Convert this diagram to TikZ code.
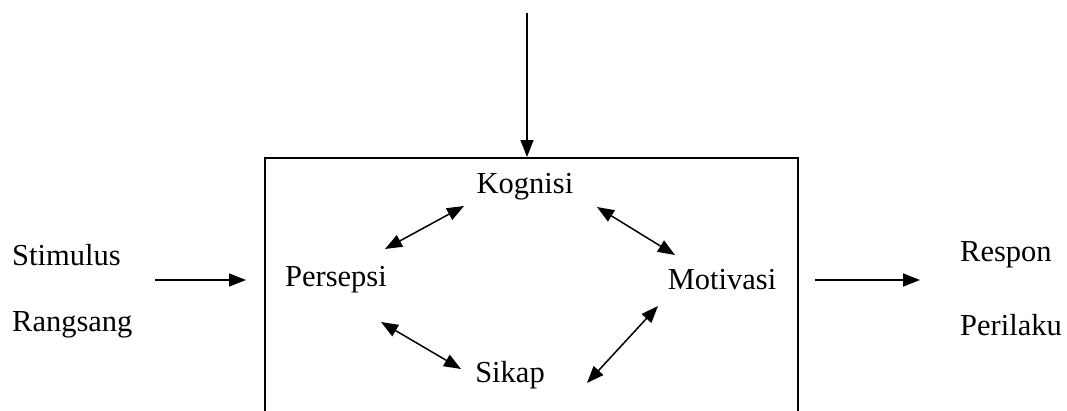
\documentclass[tikz,border=0pt]{standalone}
\usepackage{fontspec}
\setmainfont{Liberation Serif}
\usetikzlibrary{arrows.meta}
\begin{document}
\begin{tikzpicture}[x=1pt,y=-1pt,
  lbl/.style={inner sep=0pt, font=\fontsize{30.5}{36}\selectfont},
  conn/.style={line width=1.5pt, -{Triangle[length=17pt,width=13pt]}},
  dconn/.style={line width=1.5pt, {Triangle[length=17pt,width=13pt]}-{Triangle[length=17pt,width=13pt]}}]
\useasboundingbox (0,0) rectangle (1067,410);
\begin{scope}
\clip (0,0) rectangle (1067,410);
\node[draw, line width=1.6pt, minimum width=533pt, minimum height=280pt, anchor=north west, inner sep=0pt] (box) at (264,157) {};
\end{scope}
\coordinate (topin) at (527,13);
\node[lbl] (kog) at (525,187) {Kognisi};
\node[lbl] (per) at (336,280) {Persepsi};
\node[lbl] (mot) at (722,280) {Motivasi};
\node[lbl] (sik) at (510,375) {Sikap};
\node[lbl, anchor=west] (sti) at (12,255) {Stimulus};
\node[lbl, anchor=west] (ran) at (12,325) {Rangsang};
\node[lbl, anchor=west] (res) at (960,255) {Respon};
\node[lbl, anchor=west] (pri) at (960,325) {Perilaku};
\coordinate (lin) at (155,280);
\coordinate (lend) at (246,280);
\coordinate (rin) at (815,280);
\coordinate (rend) at (920,280);
\coordinate (a1) at (385,249); \coordinate (a2) at (464,206);
\coordinate (b1) at (597,207); \coordinate (b2) at (675,255);
\coordinate (c1) at (381,322); \coordinate (c2) at (461,369);
\coordinate (d1) at (587,383); \coordinate (d2) at (658,306);
\draw[conn] (topin) -- (box.north -| topin);
\draw[conn] (lin) -- (lend);
\draw[conn] (rin) -- (rend);
\draw[dconn] (a1) -- (a2);
\draw[dconn] (b1) -- (b2);
\draw[dconn] (c1) -- (c2);
\draw[dconn] (d1) -- (d2);
\end{tikzpicture}
\end{document}
